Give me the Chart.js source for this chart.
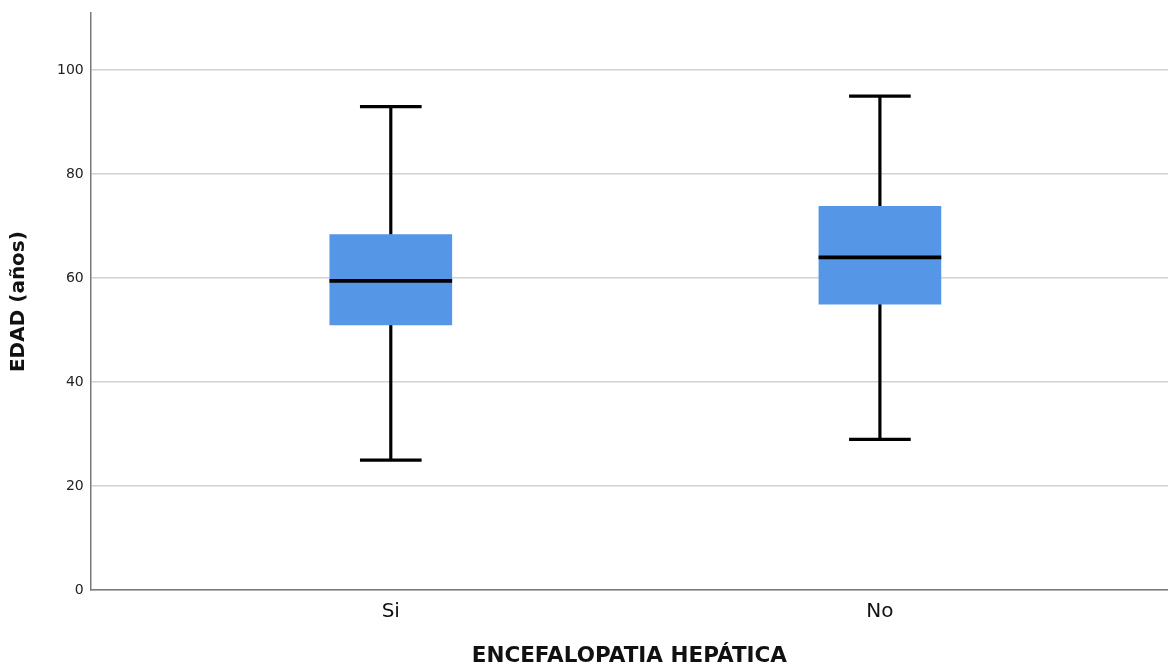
<!DOCTYPE html>
<html>
<head>
<meta charset="utf-8">
<script src="https://cdn.jsdelivr.net/npm/chart.js@4"></script>
<style>
  body { margin: 0; background: #fff; }
  #wrap { width: 1168px; height: 665px; position: relative; }
</style>
</head>
<body>
<div id="wrap"><canvas id="boxChart"></canvas></div>
<script>
// box plot summary per group
const groups = ['Si', 'No'];
const groupPos = [1, 2];
const minVals = [25, 29];
const q1Vals = [51, 55];
const medVals = [59.5, 64];
const q3Vals = [68.4, 73.8];
const maxVals = [93, 95];
const yTicks = [0, 20, 40, 60, 80, 100];

const boxColor = '#5596e6';

const floating = (lo, hi) => groupPos.map((x, i) => ({ x: x, y: [lo[i], hi[i]] }));
const around = (vals, half) => groupPos.map((x, i) => ({ x: x, y: [vals[i] - half, vals[i] + half] }));

// dataset 0 is drawn last (on top)
const datasets = [
  { label: 'median', data: around(medVals, 0.3), backgroundColor: '#000', barThickness: 122 },
  { label: 'box', data: floating(q1Vals, q3Vals), backgroundColor: boxColor, barThickness: 122 },
  { label: 'capHigh', data: around(maxVals, 0.24), backgroundColor: '#000', barThickness: 61 },
  { label: 'capLow', data: around(minVals, 0.24), backgroundColor: '#000', barThickness: 61 },
  { label: 'whiskerHigh', data: floating(q3Vals, maxVals), backgroundColor: '#000', barThickness: 2.5 },
  { label: 'whiskerLow', data: floating(minVals, q1Vals), backgroundColor: '#000', barThickness: 2.5 }
];
datasets.forEach(d => { d.grouped = false; d.borderWidth = 0; });

const config = {
  type: 'bar',
  data: { datasets: datasets },
  options: {
    responsive: true,
    maintainAspectRatio: false,
    animation: false,
    layout: { padding: { top: 0, right: 0, left: 7, bottom: 0 } },
    plugins: {
      legend: { display: false },
      tooltip: { enabled: false }
    },
    scales: {
      x: {
        type: 'linear',
        offset: false,
        min: 0.3865,
        max: 2.589,
        grid: { display: false, drawTicks: false, offset: false },
        border: { display: true, color: '#7a7a7a', width: 1.5 },
        afterBuildTicks: (axis) => { axis.ticks = groupPos.map(v => ({ value: v })); },
        ticks: {
          padding: 10,
          color: '#111',
          font: { family: 'DejaVu Sans', size: 20 },
          callback: (value) => groups[groupPos.indexOf(value)] || ''
        },
        title: {
          display: true,
          text: 'ENCEFALOPATIA HEPÁTICA',
          color: '#111',
          font: { family: 'DejaVu Sans', size: 21.5, weight: 'bold' },
          padding: { top: 9, bottom: -4 }
        }
      },
      y: {
        min: 0,
        max: 111,
        afterBuildTicks: (axis) => { axis.ticks = yTicks.map(v => ({ value: v })); },
        grid: { color: '#d2d2d2', lineWidth: 1.5, drawTicks: false },
        border: { display: true, color: '#7a7a7a', width: 1.5 },
        ticks: {
          padding: 7,
          color: '#222',
          font: { family: 'DejaVu Sans', size: 14, lineHeight: 0.85 }
        },
        title: {
          display: true,
          text: 'EDAD (años)',
          color: '#111',
          font: { family: 'DejaVu Sans', size: 20, weight: 'bold' },
          padding: { top: 0, bottom: 19 }
        }
      }
    }
  }
};

new Chart(document.getElementById('boxChart'), config);
</script>
</body>
</html>
